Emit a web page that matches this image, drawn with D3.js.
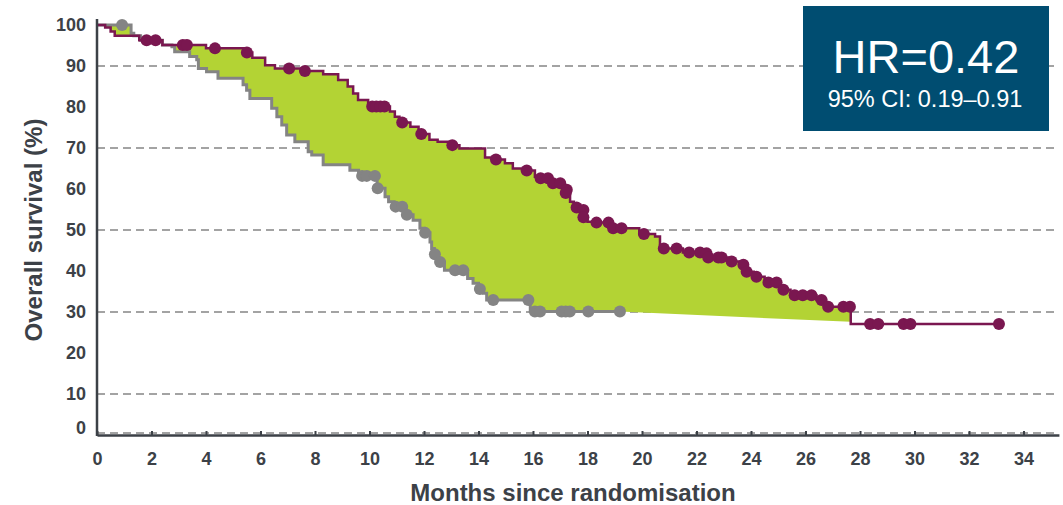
<!DOCTYPE html>
<html>
<head>
<meta charset="utf-8">
<script src="https://cdn.jsdelivr.net/npm/d3@7/dist/d3.min.js"></script>
<style>
  body { margin: 0; background: #fff; }
  text { font-family: "Liberation Sans", Arial, sans-serif; }
</style>
</head>
<body>
<div id="graph"></div>
<script>
// KM steps: [month, survival % after the drop]
var treatSteps = [[0,100],[0.3,99.4],[0.5,98.4],[0.65,97.4],[1.55,96.3],[2.4,95.1],[4.0,94.3],[5.4,93.3],
  [5.7,92],[6.17,90.2],[6.53,89.4],[7.5,88.8],[8.3,88],[8.85,86.6],[9.2,85],[9.4,83.3],[9.58,81.7],
  [9.95,80.1],[10.75,78.9],[10.93,77.6],[11.1,76.2],[11.5,75.2],[11.8,73.4],[12.2,72],[12.5,71.5],
  [12.9,70.7],[13.3,69.9],[14.24,67.7],[14.6,67.2],[14.97,66.3],[15.26,65],[15.6,64.5],[16.07,63],
  [16.2,62.6],[16.65,61.4],[17.15,59.8],[17.22,59],[17.36,56.9],[17.5,55.5],[17.75,54.9],[17.85,53.1],
  [18.0,52],[18.3,51.8],[18.85,50.4],[19.9,49],[20.48,48.4],[20.66,46.3],[20.75,45.5],[21.5,44.5],
  [22.3,43.3],[23.15,42.3],[23.6,41.5],[23.8,39.8],[24.1,38.6],[24.5,37.2],[25.05,35.4],[25.45,34.1],
  [26.4,32.9],[26.75,31.3],[27.66,27.1]];
var treatEnd = 33.1;
var treatCensor = [[1.82,96.3],[2.15,96.3],[3.15,95.1],[3.3,95.1],[4.33,94.3],[5.5,93.3],[7.05,89.4],
  [7.63,88.8],[10.1,80.1],[10.25,80.1],[10.4,80.1],[10.55,80.1],[11.2,76.2],[11.9,73.4],[13.04,70.7],
  [14.64,67.2],[15.77,64.5],[16.28,62.6],[16.55,62.6],[16.73,61.4],[17.0,61.4],[17.24,59.8],[17.2,59],
  [17.6,55.5],[17.85,54.9],[17.85,53.1],[18.33,51.8],[18.77,51.8],[18.94,50.4],[19.25,50.4],[20.07,49],
  [20.8,45.5],[21.27,45.5],[21.73,44.5],[22.13,44.5],[22.37,44.3],[22.43,43.3],[22.8,43.3],[22.92,43.3],
  [23.29,42.3],[23.72,41.5],[23.84,39.8],[24.2,38.6],[24.64,37.2],[24.94,37.2],[25.19,35.4],[25.6,34.1],
  [25.9,34.1],[26.22,34.1],[26.59,32.9],[26.83,31.3],[27.39,31.3],[27.63,31.3],[28.37,27.1],[28.67,27.1],
  [29.6,27.1],[29.85,27.1],[33.1,27.1]];

var ctrlSteps = [[0,100],[1.25,98],[1.35,97.4],[1.6,96.3],[2.4,95.1],[2.75,94.7],[2.85,93.5],[3.4,92.3],
  [3.66,91.5],[3.72,89.4],[4.02,88.6],[4.44,87],[5.36,85.4],[5.49,84.1],[5.61,82.1],[6.41,79.7],
  [6.6,77.6],[6.78,75.6],[6.96,73.2],[7.26,71.5],[7.75,69.1],[7.88,68.3],[8.3,65.9],[9.28,64.6],
  [9.6,63.2],[10.28,60.2],[10.57,58.1],[10.7,56.9],[10.9,55.7],[11.33,53.7],[11.6,52.4],[11.85,50.4],
  [12.0,49.3],[12.22,47.1],[12.28,45.5],[12.38,44.1],[12.5,42.2],[12.75,40.2],[13.6,38.2],[13.8,37],
  [14.0,35.6],[14.18,34.6],[14.3,32.9],[15.9,30.1]];
var ctrlEnd = 19.19;
var ctrlCensor = [[0.92,100],[9.73,63.2],[9.9,63.2],[10.2,63.2],[10.3,60.2],[10.96,55.7],[11.2,55.7],
  [11.37,53.7],[12.04,49.3],[12.4,44.1],[12.59,42.2],[13.14,40.2],[13.44,40.2],[14.05,35.6],[14.54,32.9],
  [15.83,32.9],[16.07,30.1],[16.26,30.1],[17.05,30.1],[17.2,30.1],[17.35,30.1],[18.03,30.1],[19.19,30.1]];

var fillCorner = [27.66, 27.6];   // where the shaded band meets the treatment drop
var xTicks = d3.range(0, 35, 2);
var yTicks = d3.range(0, 101, 10);
var gridVals = [0, 10, 30, 50, 70, 90];
var hrText = "HR=0.42", ciText = "95% CI: 0.19\u20130.91";

var W = 1063, H = 505;
var purple = "#7a1750", grey = "#848484", green = "#b3d334", ink = "#3c4147";

var x = d3.scaleLinear().domain([0, 35.3]).range([97, 97 + 35.3 * 27.25]);
var y = d3.scaleLinear().domain([0, 100]).range([435, 25]);

var svg = d3.select("#graph").append("svg")
    .attr("width", W)
    .attr("height", H);

// grid
svg.append("g").selectAll("line")
    .data(gridVals)
    .enter().append("line")
    .attr("x1", x(0)).attr("x2", x(35.3))
    .attr("y1", function(d) { return y(d) - (d == 0 ? 2 : 0); })
    .attr("y2", function(d) { return y(d) - (d == 0 ? 2 : 0); })
    .attr("stroke", "#a3a3a3")
    .attr("stroke-width", 2)
    .attr("stroke-dasharray", "8,5");

// expand step data into corner points
function stepPts(steps, end) {
    var pts = [];
    steps.forEach(function(d, i) {
        if (i > 0) pts.push([d[0], steps[i - 1][1]]);
        pts.push(d);
    });
    pts.push([end, steps[steps.length - 1][1]]);
    return pts;
}

var treatPts = stepPts(treatSteps.slice(0, -1), fillCorner[0]);
var ctrlPts = stepPts(ctrlSteps, ctrlEnd);
var band = treatPts.concat([fillCorner]).concat(ctrlPts.slice().reverse());

svg.append("path")
    .datum(band)
    .attr("d", d3.line().x(function(d) { return x(d[0]); }).y(function(d) { return y(d[1]); }))
    .attr("fill", green);

var line = d3.line()
    .curve(d3.curveStepAfter)
    .x(function(d) { return x(d[0]); })
    .y(function(d) { return y(d[1]); });

svg.append("path")
    .datum(ctrlSteps.concat([[ctrlEnd, ctrlSteps[ctrlSteps.length - 1][1]]]))
    .attr("d", line)
    .attr("fill", "none")
    .attr("stroke", grey)
    .attr("stroke-width", 3);

svg.append("path")
    .datum(treatSteps.concat([[treatEnd, treatSteps[treatSteps.length - 1][1]]]))
    .attr("d", line)
    .attr("fill", "none")
    .attr("stroke", purple)
    .attr("stroke-width", 2.5);

svg.append("g").selectAll("circle")
    .data(ctrlCensor)
    .enter().append("circle")
    .attr("cx", function(d) { return x(d[0]); })
    .attr("cy", function(d) { return y(d[1]); })
    .attr("r", 6)
    .attr("fill", grey);

svg.append("g").selectAll("circle")
    .data(treatCensor)
    .enter().append("circle")
    .attr("cx", function(d) { return x(d[0]); })
    .attr("cy", function(d) { return y(d[1]); })
    .attr("r", 6)
    .attr("fill", purple);

// axes
var xAxis = d3.axisBottom(x).tickValues(xTicks).tickSizeInner(-4).tickSizeOuter(0).tickPadding(17);
var gx = svg.append("g")
    .attr("transform", "translate(0," + y(0) + ")")
    .call(xAxis);
gx.select(".domain").attr("stroke", ink).attr("stroke-width", 2.5);
gx.selectAll(".tick line").attr("stroke", ink).attr("stroke-width", 2);
gx.selectAll("text")
    .attr("fill", ink)
    .style("font-size", "18px")
    .style("font-weight", "bold");

svg.append("line")
    .attr("x1", x(0)).attr("x2", x(0))
    .attr("y1", 19).attr("y2", y(0) + 1)
    .attr("stroke", ink).attr("stroke-width", 2.5);

svg.append("g").selectAll("text")
    .data(yTicks)
    .enter().append("text")
    .attr("x", 86)
    .attr("y", function(d) { return y(d) + (d == 0 ? -7 : 0); })
    .attr("dy", "0.35em")
    .attr("text-anchor", "end")
    .attr("fill", ink)
    .style("font-size", "18px")
    .style("font-weight", "bold")
    .text(function(d) { return d; });

svg.append("text")
    .attr("x", 573).attr("y", 501)
    .attr("text-anchor", "middle")
    .attr("fill", ink)
    .style("font-size", "24px")
    .style("font-weight", "bold")
    .text("Months since randomisation");

svg.append("text")
    .attr("transform", "translate(42,230) rotate(-90)")
    .attr("text-anchor", "middle")
    .attr("fill", ink)
    .style("font-size", "24px")
    .style("font-weight", "bold")
    .text("Overall survival (%)");

// HR box
svg.append("rect")
    .attr("x", 803).attr("y", 6)
    .attr("width", 246).attr("height", 125)
    .attr("fill", "#004d71");
svg.append("text")
    .attr("x", 926).attr("y", 73)
    .attr("text-anchor", "middle")
    .attr("fill", "#fff")
    .style("font-size", "47px")
    .text(hrText);
svg.append("text")
    .attr("x", 925).attr("y", 107)
    .attr("text-anchor", "middle")
    .attr("fill", "#fff")
    .style("font-size", "23.5px")
    .text(ciText);
</script>
</body>
</html>
